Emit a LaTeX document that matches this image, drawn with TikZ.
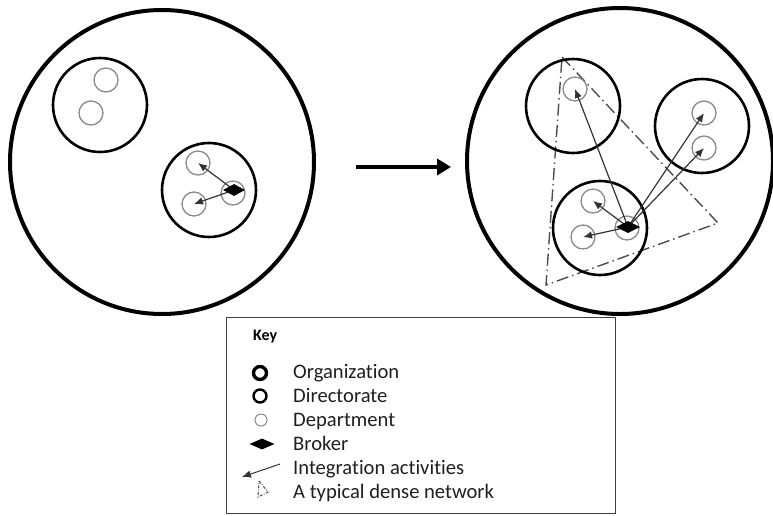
\documentclass[tikz,border=0pt]{standalone}
\usepackage{fontspec}
\setmainfont[Ligatures=NoCommon]{Carlito}
\usetikzlibrary{arrows.meta,shapes.geometric}

\definecolor{deptgray}{HTML}{8A8A8A}
\definecolor{linkgray}{HTML}{333333}

\tikzset{
  org/.style={circle, draw=black, line width=4pt, inner sep=0pt, minimum size=#1},
  directorate/.style={circle, draw=black, line width=2.6pt, inner sep=0pt, minimum size=94pt},
  dept/.style={circle, draw=deptgray, line width=1.3pt, inner sep=0pt, minimum size=24pt},
  broker/.style={diamond, fill=black, aspect=2, inner sep=0pt, minimum width=22pt, minimum height=12pt},
  link/.style={draw=linkgray, line width=1.2pt, -{Latex[length=9pt,width=7.5pt]}},
  dense/.style={draw=black!70, line width=1.4pt, dash pattern=on 12pt off 4pt on 1.5pt off 4pt},
  keytext/.style={anchor=base west, inner sep=0pt, font=\fontsize{20.6}{24}\selectfont, text=black!88},
}

\begin{document}
\begin{tikzpicture}[x=1pt, y=-1pt]
\useasboundingbox (0,0) rectangle (773,515);

% ---- organization before integration ----
\node[org=304pt] (orgA) at (162,162) {};
\node[directorate] (dirA1) at (100,105) {};
\node[dept] (dA1) at (106,80) {};
\node[dept] (dA2) at (91,113) {};
\node[directorate] (dirA2) at (209,190) {};
\node[dept] (dA3) at (198,163) {};
\node[dept] (dA4) at (194,204) {};
\node[dept] (dA5) at (233,193) {};
\draw[link] (234,190) -- (dA3.center);
\draw[link] (234,190) -- (dA4.center);
\node[broker] (bA) at (234,190) {};

% ---- transition arrow ----
\coordinate (tStart) at (356,167);
\coordinate (tEnd) at (451,167);
\draw[line width=4pt, -{Triangle[length=14pt,width=16pt]}] (tStart) -- (tEnd);

% ---- organization after integration ----
\node[org=306pt] (orgB) at (620,161) {};
\coordinate (t1) at (562,57);
\coordinate (t2) at (718,223);
\coordinate (t3) at (546,285);
\draw[dense] (t1) -- (t2) -- (t3) -- cycle;
\node[directorate] (dirB1) at (573,106) {};
\node[dept] (dB1) at (575,89) {};
\node[directorate] (dirB2) at (702,126) {};
\node[dept] (dB2) at (704,113) {};
\node[dept] (dB3) at (704,148) {};
\node[directorate] (dirB3) at (600,228) {};
\node[dept] (dB4) at (593,201) {};
\node[dept] (dB5) at (583,237) {};
\node[dept] (dB6) at (627,228) {};
\coordinate (bBc) at (628,227);
\draw[link] (bBc) -- (dB1.center);
\draw[link] (bBc) -- (dB2.center);
\draw[link] (bBc) -- (dB3.center);
\draw[link] (bBc) -- (dB4.center);
\draw[link] (bBc) -- (dB5.center);
\node[broker, minimum width=24pt] (bB) at (bBc) {};

% ---- key ----
\node[draw=black!75, line width=0.9pt, minimum width=389pt, minimum height=196pt, inner sep=0pt, anchor=north west] (keybox) at (226,317) {};
\node[anchor=base west, inner sep=0pt, font=\fontsize{16}{19}\selectfont\bfseries] (keytitle) at (253,340) {Key};

\node[circle, draw=black, line width=3.4pt, inner sep=0pt, minimum size=13pt] (kOrg) at (260,373) {};
\node[keytext] (lOrg) at (293,378) {Organization};
\node[circle, draw=black, line width=2.4pt, inner sep=0pt, minimum size=13pt] (kDir) at (260,396) {};
\node[keytext] (lDir) at (293,402) {Directorate};
\node[circle, draw=deptgray, line width=1pt, inner sep=0pt, minimum size=12pt] (kDep) at (261,420) {};
\node[keytext] (lDep) at (293,426) {Department};
\node[broker, minimum width=25pt, minimum height=11pt] (kBrk) at (262,444) {};
\node[keytext] (lBrk) at (293,450) {Broker};
\coordinate (kArrS) at (280,464);
\coordinate (kArrE) at (242,477);
\draw[link, line width=1pt] (kArrS) -- (kArrE);
\node[keytext] (lInt) at (293,474) {Integration activities};
\coordinate (m1) at (259,481);
\coordinate (m2) at (268,492);
\coordinate (m3) at (258,497);
\draw[draw=black!70, line width=1pt, dash pattern=on 3pt off 1.5pt on 0.8pt off 1.5pt] (m1) -- (m2) -- (m3) -- cycle;
\node[keytext] (lDense) at (293,498) {A typical dense network};
\end{tikzpicture}
\end{document}
